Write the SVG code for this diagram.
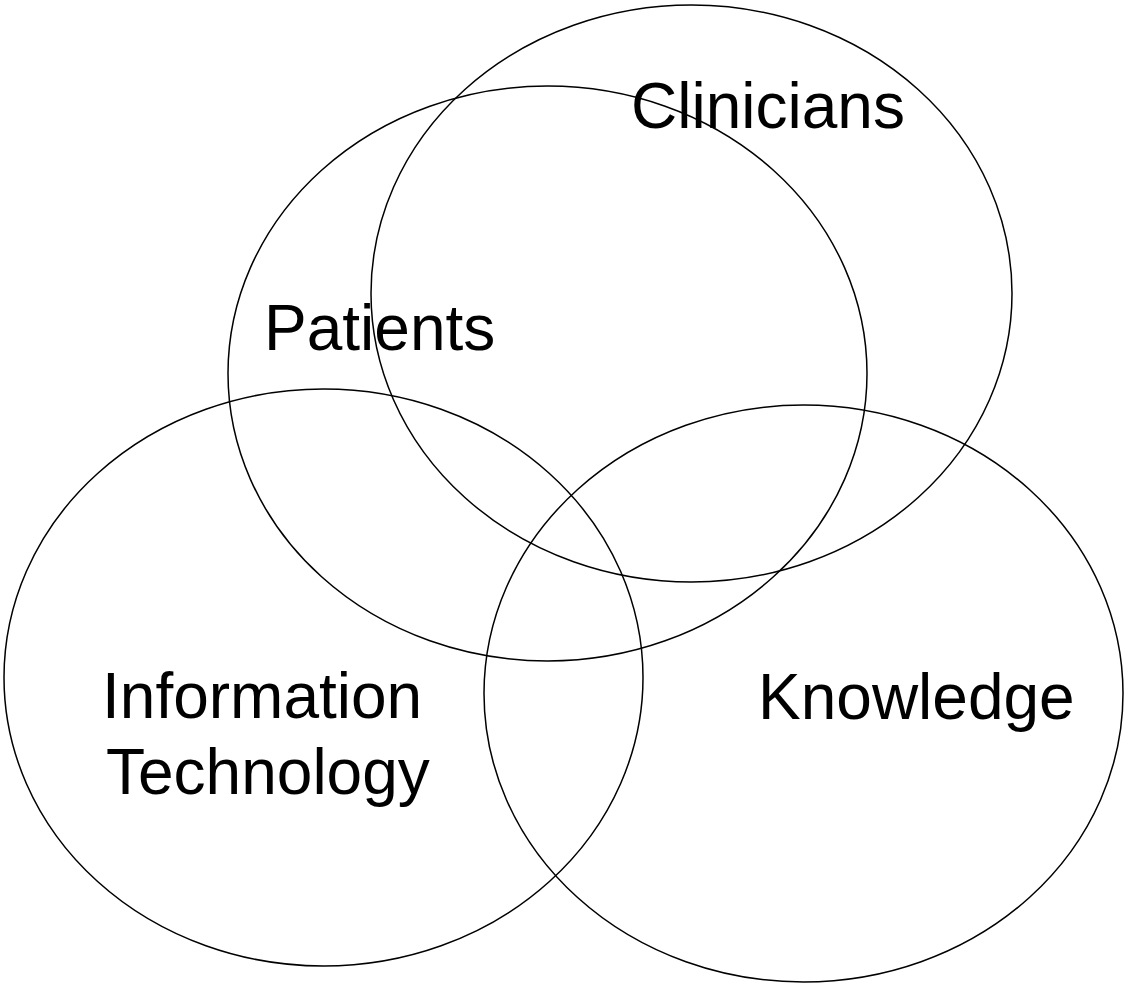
<svg xmlns="http://www.w3.org/2000/svg" width="1125" height="989" viewBox="0 0 1125 989">
  <style>
    .set { fill: none; stroke: #000; stroke-width: 1.5; }
    .label { font-family: "Liberation Sans", Arial, sans-serif; font-size: 64px; fill: #000; }
  </style>
  <rect width="1125" height="989" fill="#fff"/>
  <g id="clinicians">
    <ellipse class="set" cx="691.5" cy="293.5" rx="320.5" ry="288.5"/>
    <text class="label" x="631" y="128">Clinicians</text>
  </g>
  <g id="patients">
    <ellipse class="set" cx="547.5" cy="373.5" rx="319.5" ry="287.5"/>
    <text class="label" x="264" y="350">Patients</text>
  </g>
  <g id="information-technology">
    <ellipse class="set" cx="323.5" cy="677.5" rx="319.5" ry="288.5"/>
    <text class="label" x="102" y="718">Information</text>
    <text class="label" x="106" y="794">Technology</text>
  </g>
  <g id="knowledge">
    <ellipse class="set" cx="803.5" cy="693.5" rx="319.5" ry="288.5"/>
    <text class="label" x="758" y="719">Knowledge</text>
  </g>
  <g id="connectors"></g>
</svg>
